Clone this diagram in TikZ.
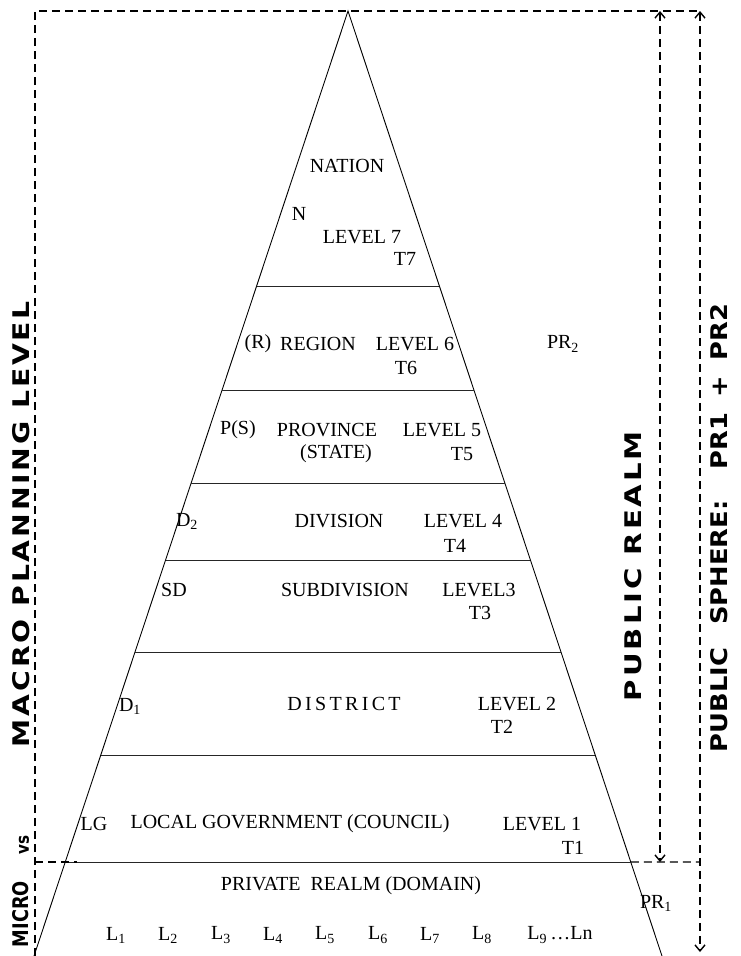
\documentclass[tikz,border=0pt]{standalone}
\usepackage{fontspec}
\setmainfont{Liberation Serif}
\newfontfamily\dvsans{DejaVu Sans}
\usetikzlibrary{arrows.meta,calc}
\begin{document}
\begin{tikzpicture}[x=1pt,y=-1pt,
  txt/.style={font=\fontsize{20}{23}\selectfont, inner sep=0pt},
  side/.style={rotate=90, inner sep=0pt},
  edgeline/.style={line width=0.9pt},
  lvl/.style={line width=0.9pt, draw=black!85},
  dashline/.style={line width=1.4pt, dash pattern=on 8pt off 5pt},
  bothtips/.style={{Straight Barb[length=6pt,width=10pt]}-{Straight Barb[length=6pt,width=10pt]}}
]
\useasboundingbox (0,0) rectangle (740,956);
% pyramid
\coordinate (A) at (348,11);
\coordinate (BL) at (34,956);
\coordinate (BR) at (662,956);
\draw[edgeline] (BL) -- (A) -- (BR);
\foreach \i/\yy in {7/286,6/390,5/483,4/560,3/652,2/755,1/862} {
  \pgfmathsetmacro\t{(\yy-11)/945}
  \coordinate (L\i) at ($(A)!\t!(BL)$);
  \coordinate (R\i) at ($(A)!\t!(BR)$);
  \draw[lvl] (L\i) -- (R\i);
}
% dashed frame and arrows
\coordinate (TL) at (35,11);
\coordinate (TR) at (700,11);
\coordinate (BLd) at (35,956);
\draw[dashline] (BLd) -- (TL) -- (TR);
\coordinate (PRt) at (660,11);
\coordinate (PRb) at (660,862);
\draw[dashline, bothtips] (PRt) -- (PRb);
\coordinate (PSt) at (700,11);
\coordinate (PSb) at (700,952);
\draw[dashline, bothtips] (PSt) -- (PSb);
\coordinate (ML) at (35,862);
\coordinate (MLe) at (77,862);
\coordinate (MR) at (700,862);
\draw[dashline] (ML) -- (MLe);
\draw[dashline] (R1) -- (MR);
% level 7
\node[txt] (nation) at (347,166) {NATION};
\node[txt] (n) at (299,214) {N};
\node[txt] (lv7) at (362,237) {LEVEL 7};
\node[txt] (t7) at (405,259) {T7};
% level 6
\node[txt] (r) at (258,344) {(R)};
\node[txt] (region) at (318,344) {REGION};
\node[txt] (lv6) at (415,344) {LEVEL 6};
\node[txt] (t6) at (406,368) {T6};
\node[txt] (pr2) at (563,344) {PR\textsubscript{2}};
% level 5
\node[txt] (ps) at (238,430) {P(S)};
\node[txt] (prov) at (327,430) {PROVINCE};
\node[txt] (state) at (336,454) {(STATE)};
\node[txt] (lv5) at (442,430) {LEVEL 5};
\node[txt] (t5) at (462,454) {T5};
% level 4
\node[txt] (d2) at (187,521) {D\textsubscript{2}};
\node[txt] (div) at (339,521) {DIVISION};
\node[txt] (lv4) at (463,521) {LEVEL 4};
\node[txt] (t4) at (455,546) {T4};
% level 3
\node[txt] (sd) at (174,590) {SD};
\node[txt] (subdiv) at (345,590) {SUBDIVISION};
\node[txt] (lv3) at (479,590) {LEVEL3};
\node[txt] (t3) at (480,613) {T3};
% level 2
\node[txt] (d1) at (130,706) {D\textsubscript{1}};
\node[txt] (district) at (344,704) {D\,I\,S\,T\,R\,I\,C\,T};
\node[txt] (lv2) at (517,704) {LEVEL 2};
\node[txt] (t2) at (502,727) {T2};
% level 1
\node[txt] (lg) at (94,824) {LG};
\node[txt] (local) at (290,824) {LOCAL GOVERNMENT (COUNCIL)};
\node[txt] (lv1) at (542,824) {LEVEL 1};
\node[txt] (t1) at (573,848) {T1};
% private realm
\node[txt] (private) at (351,886) {PRIVATE\ \ REALM (DOMAIN)};
\node[txt] (pr1) at (656,903) {PR\textsubscript{1}};
\node[txt] (la) at (116,935) {L\textsubscript{1}};
\node[txt] (lb) at (168,935) {L\textsubscript{2}};
\node[txt] (lc) at (221,935) {L\textsubscript{3}};
\node[txt] (ld) at (273,935) {L\textsubscript{4}};
\node[txt] (le) at (325,935) {L\textsubscript{5}};
\node[txt] (lf) at (378,935) {L\textsubscript{6}};
\node[txt] (lg7) at (430,935) {L\textsubscript{7}};
\node[txt] (lh) at (482,935) {L\textsubscript{8}};
\node[txt] (li) at (560,935) {L\textsubscript{9}\,…Ln};
% side labels
\node[side] (macro) at (21,524) {\resizebox{446pt}{17pt}{\dvsans\bfseries\addfontfeatures{LetterSpace=10}MACRO PLANNING LEVEL}};
\node[side] (vs) at (24,845) {\resizebox{19pt}{10pt}{\dvsans\bfseries vs}};
\node[side] (micro) at (21,914) {\resizebox{66pt}{16pt}{\dvsans\bfseries MICRO}};
\node[side] (realm) at (633,566) {\resizebox{270pt}{17pt}{\dvsans\bfseries\addfontfeatures{LetterSpace=10}PUBLIC REALM}};
\node[side] (sphere) at (719,528) {\resizebox{448pt}{17pt}{\dvsans\bfseries PUBLIC\hspace{0.9em}SPHERE:\hspace{1.2em}PR1\hspace{0.6em}+\hspace{0.6em}PR2}};
\end{tikzpicture}
\end{document}
